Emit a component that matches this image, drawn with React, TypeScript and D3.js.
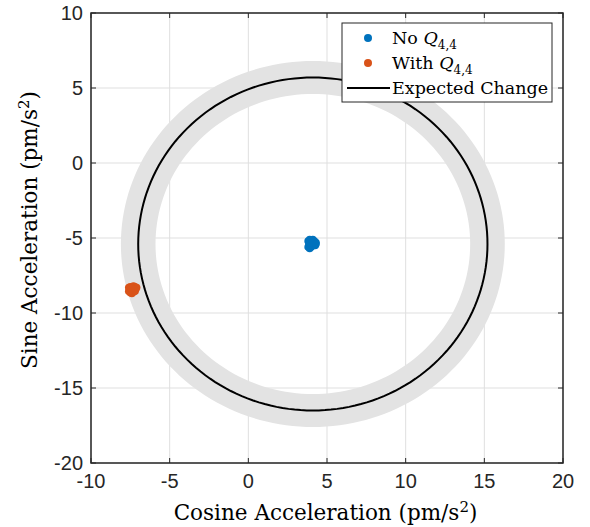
import React from "react";
import * as d3 from "d3";

const xTicks = [-10, -5, 0, 5, 10, 15, 20];
const yTicks = [-20, -15, -10, -5, 0, 5, 10];

const noQ44X = [3.8, 3.9, 4.0, 4.1, 4.2, 4.3, 3.85, 3.95, 4.05, 4.15, 4.25, 3.9, 4.0, 4.1, 3.8, 4.2, 4.0, 3.9, 4.1, 4.3];
const noQ44Y = [-5.2, -5.1, -5.2, -5.1, -5.2, -5.3, -5.4, -5.5, -5.4, -5.3, -5.5, -5.7, -5.6, -5.5, -5.6, -5.4, -5.3, -5.3, -5.2, -5.4];

const withQ44X = [-7.6, -7.5, -7.4, -7.3, -7.2, -7.1, -7.55, -7.45, -7.35, -7.25, -7.15, -7.5, -7.4, -7.3, -7.2, -7.6, -7.45];
const withQ44Y = [-8.3, -8.25, -8.3, -8.2, -8.25, -8.3, -8.45, -8.5, -8.4, -8.45, -8.4, -8.65, -8.7, -8.6, -8.55, -8.55, -8.35];

const circleCenter = [4.1, -5.4];
const circleRadius = [11.1];
const bandRadii = [10.0, 12.2];

const W = 590, H = 527;
const L = 91, R = 563, T = 13, B = 463;

export default function App() {
  const x = d3.scaleLinear().domain([-10, 20]).range([L, R]);
  const y = d3.scaleLinear().domain([-20, 10]).range([B, T]);

  const angles = d3.range(0, 361, 2).map((a) => (a * Math.PI) / 180);
  const ring = (r: number) =>
    angles.map((a) => [x(circleCenter[0] + r * Math.cos(a)), y(circleCenter[1] + r * Math.sin(a))] as [number, number]);
  const lineGen = d3.line();
  const outer = ring(bandRadii[1]);
  const inner = ring(bandRadii[0]).reverse();
  const bandPath = lineGen(outer)! + "Z" + lineGen(inner)! + "Z";
  const circlePath = lineGen(ring(circleRadius[0]))! + "Z";

  const blue = "#0072BD";
  const orange = "#D95319";
  const axisColor = "#262626";
  const serif = "'DejaVu Serif', serif";
  const sans = "'Liberation Sans', Arial, sans-serif";

  return (
    <svg width={W} height={H} style={{ position: "absolute", left: 0, top: 0, background: "#fff" }}>
      <defs>
        <clipPath id="plotclip">
          <rect x={L} y={T} width={R - L} height={B - T} />
        </clipPath>
      </defs>
      <rect x={L} y={T} width={R - L} height={B - T} fill="#fff" />
      {/* grid */}
      {xTicks.map((t) => (
        <line key={"gx" + t} x1={x(t)} x2={x(t)} y1={T} y2={B} stroke="#dfdfdf" strokeWidth={1} />
      ))}
      {yTicks.map((t) => (
        <line key={"gy" + t} x1={L} x2={R} y1={y(t)} y2={y(t)} stroke="#dfdfdf" strokeWidth={1} />
      ))}
      <g clipPath="url(#plotclip)">
        <path d={bandPath} fill="#e3e3e3" fillRule="evenodd" />
        <path d={circlePath} fill="none" stroke="#000" strokeWidth={2} />
        {noQ44X.map((v, i) => (
          <circle key={"b" + i} cx={x(v)} cy={y(noQ44Y[i])} r={3.8} fill={blue} />
        ))}
        {withQ44X.map((v, i) => (
          <circle key={"o" + i} cx={x(v)} cy={y(withQ44Y[i])} r={3.8} fill={orange} />
        ))}
      </g>
      {/* axes box */}
      <rect x={L} y={T} width={R - L} height={B - T} fill="none" stroke={axisColor} strokeWidth={1.5} />
      {xTicks.map((t) => (
        <g key={"tx" + t}>
          <line x1={x(t)} x2={x(t)} y1={B} y2={B - 5} stroke={axisColor} />
          <line x1={x(t)} x2={x(t)} y1={T} y2={T + 5} stroke={axisColor} />
          <text x={x(t)} y={B + 25} textAnchor="middle" fontFamily={sans} fontSize={20} fill={axisColor}>
            {t}
          </text>
        </g>
      ))}
      {yTicks.map((t) => (
        <g key={"ty" + t}>
          <line x1={L} x2={L + 5} y1={y(t)} y2={y(t)} stroke={axisColor} />
          <line x1={R} x2={R - 5} y1={y(t)} y2={y(t)} stroke={axisColor} />
          <text x={L - 8} y={y(t) + 7} textAnchor="end" fontFamily={sans} fontSize={20} fill={axisColor}>
            {t}
          </text>
        </g>
      ))}
      {/* axis labels */}
      <text x={(173 + 478) / 2} y={520} textAnchor="middle" fontFamily={serif} fontSize={21.5} fill="#000">
        Cosine Acceleration (pm/s
        <tspan dy={-8} fontSize={15}>2</tspan>
        <tspan dy={8}>)</tspan>
      </text>
      <text
        transform={`translate(37, 230) rotate(-90)`}
        textAnchor="middle"
        fontFamily={serif}
        fontSize={21.5}
        fill="#000"
      >
        Sine Acceleration (pm/s
        <tspan dy={-8} fontSize={15}>2</tspan>
        <tspan dy={8}>)</tspan>
      </text>
      {/* legend */}
      <rect x={342} y={23} width={210} height={79} fill="#fff" stroke={axisColor} strokeWidth={1} />
      <circle cx={368} cy={38} r={4} fill={blue} />
      <text x={392} y={44} fontFamily={serif} fontSize={17.5} fill="#000">
        No <tspan fontStyle="italic">Q</tspan>
        <tspan dy={5} fontSize={12}>4,4</tspan>
      </text>
      <circle cx={368} cy={63} r={4} fill={orange} />
      <text x={392} y={69} fontFamily={serif} fontSize={17.5} fill="#000">
        With <tspan fontStyle="italic">Q</tspan>
        <tspan dy={5} fontSize={12}>4,4</tspan>
      </text>
      <line x1={347} x2={390} y1={88} y2={88} stroke="#000" strokeWidth={2} />
      <text x={392} y={94} fontFamily={serif} fontSize={17.5} fill="#000">
        Expected Change
      </text>
    </svg>
  );
}
